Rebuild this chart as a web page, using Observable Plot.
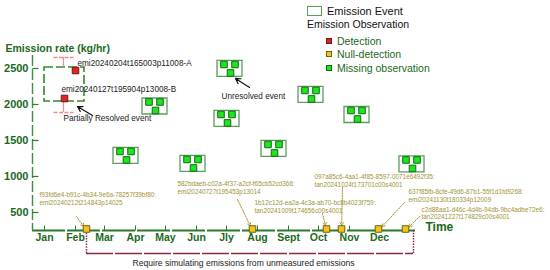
<!DOCTYPE html>
<html><head><meta charset="utf-8">
<script src="https://cdn.jsdelivr.net/npm/d3@7"></script>
<script src="https://cdn.jsdelivr.net/npm/@observablehq/plot@0.6"></script>
<style>
body{margin:0;background:#fff;font-family:"Liberation Sans",Arial,sans-serif}
#wrap{position:relative;width:550px;height:270px}
#legend{position:absolute;left:307px;top:4px;font-family:"Liberation Sans",Arial,sans-serif}
#legend .row{display:flex;align-items:center;height:13.5px;white-space:nowrap}
#legend .sw{display:inline-block;box-sizing:border-box}
</style></head><body>
<div id="wrap"><div id="chart"></div>
<div id="legend">
  <div class="row" style="font-size:11px;color:#111"><span class="sw" style="width:15px;height:10px;border:1.3px solid #5a9e5a;margin-right:5px"></span>Emission Event</div>
  <div class="row" style="font-size:10.5px;color:#111;margin-bottom:3px">Emission Observation</div>
  <div class="row" style="font-size:10.5px;color:#1b691b;padding-left:19px"><span class="sw" style="width:6px;height:6px;background:#e52222;border:1px solid #6a1a1a;margin-right:5px"></span>Detection</div>
  <div class="row" style="font-size:10.5px;color:#1b691b;padding-left:19px"><span class="sw" style="width:6px;height:6px;background:#f2c417;border:1px solid #6f6210;margin-right:5px"></span>Null-detection</div>
  <div class="row" style="font-size:10.5px;color:#1b691b;padding-left:19px"><span class="sw" style="width:6px;height:6px;background:#1ee51e;border:1px solid #0f6b0f;margin-right:5px"></span>Missing observation</div>
</div></div>
<script>
// ---- data ----
const months = ["Jan","Feb","Mar","Apr","May","Jun","Jly","Aug","Sept","Oct","Nov","Dec"];
const yTicks = [500, 1000, 1500, 2000, 2500];
const xDomain = ["2023-12-20", "2025-01-07"];
const yDomain = [250, 2680];

// unresolved events (all observations missing)
const eventDates = ["2024-03-22","2024-04-20","2024-05-28","2024-07-04","2024-07-01","2024-08-17","2024-09-23","2024-11-08","2025-01-02"];
const eventRates = [1292, 1979, 1181, 2500, 1806, 1389, 2139, 1861, 1174];

// partially resolved event
const detectIds = ["emi20240204t165003p11008-A", "emi20240127t195904p13008-B"];
const detectDates = ["2024-02-01", "2024-01-21"];
const detectRates = [2472, 2083];
const partialDates = ["2024-01-01", "2024-02-10"];
const partialRates = [2042, 2514];
const errDate = "2024-01-20";
const errRates = [1889, 2653];

// null detections
const nullDates = ["2024-02-12","2024-07-27","2024-10-09","2024-10-24","2024-11-30","2024-12-27"];
const nullIds = ["f93fd6e4-b91c-4b34-9e6a-78257f39bf80","582bdaeb-c02a-4f37-a2cf-f65cb52cd366","1b12c12d-ea2a-4c3a-ab70-bc8b4023f759","097a85c6-4aa1-4f85-8597-0071e6492f35","637f85fb-8cfe-49d6-87b1-55f1d1fd9268","c2d88aa1-d46c-4d4b-94db-9bc4adbe72e6"];
const nullObs = ["emi20240212t214843p14025","emi20240727t195453p13014","tan20241009t174656c00s4001","tan20241024t173701c00s4001","emi20241130t180334p12009","tan20241227t174829c00s4001"];
const calloutTextDates = ["2023-12-27","2024-05-13","2024-07-29","2024-09-27","2024-12-30","2025-01-12"];
const calloutTextRates = [785, 937, 674, 1035, 826, 585];
const calloutTailDates = ["2024-02-02","2024-07-12","2024-10-05","2024-10-25","2024-12-26","2025-01-10"];
const calloutTailRates = [444, 681, 486, 847, 639, 445];

// other annotations
const noteTexts = ["Partially Resolved event", "Unresolved event"];
const noteDates = ["2024-01-20", "2024-06-26"];
const noteRates = [1806, 2111];
const noteTailDates = ["2024-02-18", "2024-07-24"];
const noteTailRates = [1847, 2236];
const noteHeadDates = ["2024-02-03", "2024-07-10"];
const noteHeadRates = [1972, 2361];

const bracketDates = ["2024-02-12", "2025-01-04"];
const bracketRate = -70;
const bracketText = "Require simulating emissions from unmeasured emissions";
const bracketTextDate = "2024-07-18";
const bracketTextRate = -210;

// ---- build ----
const D = s => new Date(s);
const green = "#1b691b";
const olive = "#a29434";
const font = "Liberation Sans, Arial, sans-serif";

const events = eventDates.map((d, i) => ({date: D(d), rate: eventRates[i]}));
const detects = detectDates.map((d, i) => ({date: D(d), rate: detectRates[i], id: detectIds[i]}));
const nulls = nullDates.map((d, i) => ({
  date: D(d), label: nullIds[i] + ":\n" + nullObs[i],
  tx: D(calloutTextDates[i]), ty: calloutTextRates[i],
  ax: D(calloutTailDates[i]), ay: calloutTailRates[i]
}));
const notes = noteTexts.map((t, i) => ({text: t, date: D(noteDates[i]), rate: noteRates[i],
  x1: D(noteTailDates[i]), y1: noteTailRates[i], x2: D(noteHeadDates[i]), y2: noteHeadRates[i]}));
const monthStarts = months.map((m, i) => new Date(Date.UTC(2024, i, 1)));

const boxSym = {draw(c) { c.rect(-12.5, -8, 25, 16); }};
const capSym = {draw(c) { c.moveTo(-10, 0); c.lineTo(10, 0); }};
const tickUp = {draw(c) { c.moveTo(0, 0); c.lineTo(0, -5); }};
const tickRight = {draw(c) { c.moveTo(0, 0); c.lineTo(6, 0); }};
const sq = 3.7;

const chart = Plot.plot({
  width: 550, height: 270,
  marginLeft: 32, marginRight: 134, marginTop: 55, marginBottom: 40,
  style: {fontFamily: font, background: "white", overflow: "visible"},
  x: {type: "utc", domain: xDomain.map(D)},
  y: {domain: yDomain},
  marks: [
    // axes lines
    Plot.ruleY([yDomain[0]], {stroke: "#2b7b2b", strokeWidth: 2, strokeDasharray: "33,2"}),
    Plot.ruleX([D(xDomain[0])], {stroke: "#3f8f3f", strokeWidth: 1.4, strokeDasharray: "11,3"}),
    Plot.dot(monthStarts, {x: d => d, frameAnchor: "bottom", symbol: tickUp, stroke: "#2b7b2b", fill: "none", strokeWidth: 1}),
    Plot.dot(yTicks, {y: d => d, frameAnchor: "left", symbol: tickRight, stroke: "#2b7b2b", fill: "none", strokeWidth: 1.2}),
    Plot.axisX({ticks: monthStarts, tickFormat: d => months[d.getUTCMonth()], tickSize: 0, tickPadding: 3,
      fontSize: 10.5, fontWeight: "bold", color: green, label: null}),
    Plot.axisY({ticks: yTicks, tickFormat: "d", tickSize: 0, tickPadding: 4,
      fontSize: 11, fontWeight: "bold", color: green, label: null}),
    Plot.text(["Emission rate (kg/hr)"], {frameAnchor: "top-left", dx: -27, dy: -11, textAnchor: "start",
      fontSize: 10.5, fontWeight: "bold", fill: green}),
    Plot.text(["Time"], {frameAnchor: "bottom-right", dx: 9, dy: 0, textAnchor: "start",
      fontSize: 12, fontWeight: "bold", fill: green}),

    // bracket for unmeasured emissions
    Plot.ruleX(bracketDates.map(D), {y1: yDomain[0], y2: bracketRate, stroke: "#8a2846", strokeWidth: 1.5, strokeDasharray: "1.5,1.2"}),
    Plot.ruleY([bracketRate], {x1: D(bracketDates[0]), x2: D(bracketDates[1]), stroke: "#8a2846", strokeWidth: 1.5, strokeDasharray: "27,2"}),
    Plot.text([bracketText], {x: D(bracketTextDate), y: bracketTextRate, fontSize: 8.6, fill: "#222"}),

    // partially resolved event
    Plot.rect([0], {x1: () => D(partialDates[0]), x2: () => D(partialDates[1]), y1: () => partialRates[0], y2: () => partialRates[1],
      fill: "none", stroke: "#2f8a2f", strokeWidth: 1.6, strokeDasharray: "9,3"}),
    Plot.ruleX([D(errDate)], {y1: partialRates[1], y2: errRates[1], stroke: "#f08c8c", strokeWidth: 1.2}),
    Plot.ruleX([D(errDate)], {y1: errRates[0], y2: partialRates[0], stroke: "#f08c8c", strokeWidth: 1.2}),
    Plot.dot(errRates, {x: () => D(errDate), y: d => d, symbol: capSym, stroke: "#f08c8c", fill: "none", strokeWidth: 1.4, strokeDasharray: "4,1.5"}),
    Plot.dot(detects, {x: "date", y: "rate", symbol: "square", r: sq, fill: "#e52222", stroke: "#6a1a1a", strokeWidth: 1}),
    Plot.text(detects.slice(0, 1), {x: "date", y: "rate", text: "id", dx: 2, dy: -7, textAnchor: "start", fontSize: 8.2, fill: "#222"}),
    Plot.text(detects.slice(1), {x: "date", y: "rate", text: "id", dx: -3, dy: -9, textAnchor: "start", fontSize: 8.2, fill: "#222"}),

    // unresolved events
    Plot.dot(events, {x: "date", y: "rate", symbol: boxSym, fill: "white", stroke: "#5a9e5a", strokeWidth: 1.3}),
    Plot.dot(events, {x: "date", y: "rate", symbol: "square", r: sq, dx: -5.5, dy: -4, fill: "#1ee51e", stroke: "#0f6b0f", strokeWidth: 1}),
    Plot.dot(events, {x: "date", y: "rate", symbol: "square", r: sq, dx: 5.5, dy: -4, fill: "#1ee51e", stroke: "#0f6b0f", strokeWidth: 1}),
    Plot.dot(events, {x: "date", y: "rate", symbol: "square", r: sq, dx: 1, dy: 4.5, fill: "#1ee51e", stroke: "#0f6b0f", strokeWidth: 1}),

    // notes with black arrows
    Plot.text(notes, {x: "date", y: "rate", text: "text", textAnchor: "start", fontSize: 8.2, fill: "#222"}),
    Plot.arrow(notes, {x1: "x1", y1: "y1", x2: "x2", y2: "y2", stroke: "#111", strokeWidth: 1.2, headLength: 7}),

    // null detections with callouts
    Plot.arrow(nulls, {x1: "ax", y1: "ay", x2: "date", y2: () => yDomain[0], insetEnd: 5, stroke: olive, strokeWidth: 1, strokeDasharray: "1.3,1.3", headLength: 5}),
    Plot.text(nulls, {x: "tx", y: "ty", text: "label", textAnchor: "start", lineAnchor: "top", lineHeight: 1.2, fontSize: 6.4, fill: olive}),
    Plot.dot(nulls, {x: "date", frameAnchor: "bottom", dy: -1.5, symbol: "square", r: sq, fill: "#f2c417", stroke: "#6f6210", strokeWidth: 1})
  ]
});
document.getElementById("chart").appendChild(chart);
</script>
</body></html>
